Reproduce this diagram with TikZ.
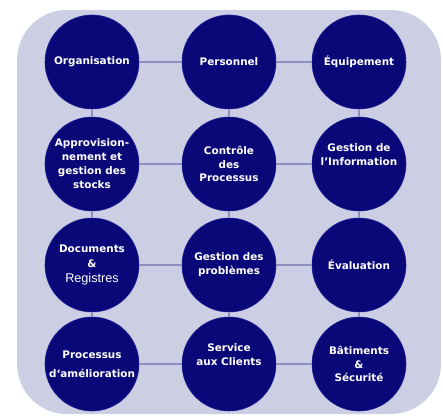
\documentclass[tikz,border=0pt]{standalone}
\usepackage{fontspec}
\setmainfont{DejaVu Sans}
\newfontfamily\regfont{Liberation Sans}
\definecolor{navy}{RGB}{10,8,120}
\definecolor{lavender}{RGB}{204,206,228}
\definecolor{linkgray}{RGB}{140,142,192}

\begin{document}
\begin{tikzpicture}[x=0.025cm,y=-0.025cm,
  bubble/.style={circle,fill=navy,draw={rgb,255:red,30;green,30;blue,150},inner sep=0pt,
    minimum size=2.35cm,text=white,font=\fontsize{7.4}{10}\selectfont\bfseries,align=center},
  link/.style={linkgray,line width=0.8pt}]
\useasboundingbox (0,0) rectangle (443,416);
\fill[lavender,rounded corners=1.25cm] (17,10) rectangle (441,414);

% first row
\node[bubble] at (92,62) (orga) {Organisation};
\node[bubble] at (229,62) (pers) {Personnel};
\node[bubble] at (359,62) (equip) {Équipement};
% second row
\node[bubble] at (92,164) (appro) {Approvision-\\nement et\\gestion des\\stocks};
\node[bubble,font=\fontsize{7.4}{9.8}\selectfont\bfseries] at (229,164) (ctrl) {Contrôle\\des\\Processus};
\node[bubble] at (359,164) (info) {Gestion de\\l’Information\\[4pt]};
% third row
\node[bubble,font=\fontsize{7.4}{11}\selectfont\bfseries] at (92,265) (docs) {Documents\\\&\\{\regfont\mdseries\fontsize{9}{10}\selectfont Registres}};
\node[bubble] at (229,265) (prob) {Gestion des\\problèmes};
\node[bubble] at (359,265) (eval) {Évaluation};
% last row
\node[bubble,font=\fontsize{7.4}{13.5}\selectfont\bfseries] at (92,364) (amel) {Processus\\d‘amélioration};
\node[bubble,font=\fontsize{7.4}{9.8}\selectfont\bfseries] at (229,364) (serv) {Service\\aux Clients\\[4pt]};
\node[bubble,font=\fontsize{7.4}{9.8}\selectfont\bfseries] at (359,364) (bat) {Bâtiments\\\&\\Sécurité};

\draw[link] (orga) -- (pers);
\draw[link] (pers) -- (equip);
\draw[link] (appro) -- (ctrl);
\draw[link] (ctrl) -- (info);
\draw[link] (docs) -- (prob);
\draw[link] (prob) -- (eval);
\draw[link] (amel) -- (serv);
\draw[link] (serv) -- (bat);
\draw[link] (orga) -- (appro);
\draw[link] (appro) -- (docs);
\draw[link] (docs) -- (amel);
\draw[link] (pers) -- (ctrl);
\draw[link] (ctrl) -- (prob);
\draw[link] (prob) -- (serv);
\draw[link] (equip) -- (info);
\draw[link] (info) -- (eval);
\draw[link] (eval) -- (bat);
\end{tikzpicture}
\end{document}
